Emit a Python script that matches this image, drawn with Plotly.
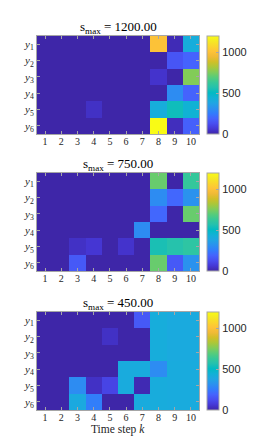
import plotly.graph_objects as go

time_steps = [1, 2, 3, 4, 5, 6, 7, 8, 9, 10]
y_labels = ["<i>y</i><sub>1</sub>", "<i>y</i><sub>2</sub>", "<i>y</i><sub>3</sub>",
            "<i>y</i><sub>4</sub>", "<i>y</i><sub>5</sub>", "<i>y</i><sub>6</sub>"]
titles = ["s<sub>max</sub> = 1200.00", "s<sub>max</sub> = 750.00", "s<sub>max</sub> = 450.00"]

s_1200 = [
    [0, 0, 0, 0, 0, 0, 0, 1000, 20, 420],
    [0, 0, 0, 0, 0, 0, 0, 0, 150, 190],
    [0, 0, 0, 0, 0, 0, 0, 50, 0, 760],
    [0, 0, 0, 0, 0, 0, 0, 0, 300, 190],
    [0, 0, 0, 40, 0, 0, 0, 420, 530, 450],
    [0, 0, 0, 0, 0, 0, 0, 1200, 30, 180],
]
s_750 = [
    [0, 0, 0, 0, 0, 0, 0, 720, 0, 620],
    [0, 0, 0, 0, 0, 0, 0, 300, 200, 320],
    [0, 0, 0, 0, 0, 0, 0, 200, 0, 720],
    [0, 0, 0, 0, 0, 0, 300, 0, 0, 0],
    [0, 0, 40, 60, 0, 50, 0, 550, 575, 600],
    [0, 0, 160, 0, 0, 0, 0, 720, 160, 320],
]
s_450 = [
    [0, 0, 0, 0, 0, 0, 160, 420, 405, 405],
    [0, 0, 0, 0, 40, 0, 0, 420, 405, 405],
    [0, 0, 0, 0, 0, 0, 0, 420, 405, 405],
    [0, 0, 0, 0, 0, 410, 410, 300, 410, 410],
    [0, 0, 300, 40, 100, 410, 15, 415, 410, 410],
    [0, 0, 400, 260, 0, 0, 410, 415, 410, 410],
]
panels = [s_1200, s_750, s_450]

parula_rgb = [
    (0.2422, 0.1504, 0.6603), (0.2706, 0.2147, 0.8364), (0.2813, 0.3006, 0.9414),
    (0.2699, 0.3892, 0.9906), (0.1963, 0.4847, 0.9892), (0.1687, 0.5703, 0.9359),
    (0.1248, 0.6459, 0.8883), (0.0689, 0.6948, 0.8394), (0.0067, 0.7312, 0.7660),
    (0.1408, 0.7584, 0.6842), (0.2161, 0.7843, 0.5923), (0.3406, 0.8008, 0.4789),
    (0.5044, 0.7993, 0.3480), (0.6720, 0.7793, 0.2227), (0.8203, 0.7498, 0.1535),
    (0.9393, 0.7288, 0.2100), (0.9970, 0.7659, 0.2199), (0.9786, 0.8386, 0.1766),
    (0.9597, 0.9135, 0.1423), (0.9769, 0.9839, 0.0805),
]
n = len(parula_rgb)
parula = [[i / (n - 1), "rgb(%d,%d,%d)" % tuple(round(c * 255) for c in rgb)]
          for i, rgb in enumerate(parula_rgb)]

# page body has an 8px margin; work in page pixels and convert
OFF = 8
W, H = 269 - OFF, 438 - OFF
def px_x(x):
    return (x - OFF) / W
def px_y(y):
    return 1 - (y - OFF) / H

x0, x1 = 37, 199
tops = [36, 173, 312]
ph = 98
serif = "Liberation Serif"
axis_col = "#a6a6a6"
txt_col = "#262626"

fig = go.Figure()
layout = dict(
    width=W, height=H, margin=dict(l=0, r=0, t=0, b=0),
    paper_bgcolor="white", plot_bgcolor="white", showlegend=False,
    annotations=[],
)
for i, z in enumerate(panels):
    k = "" if i == 0 else str(i + 1)
    ca = "coloraxis" + k
    fig.add_trace(go.Heatmap(z=z, x=time_steps, y=y_labels, coloraxis=ca,
                             xaxis="x" + k, yaxis="y" + k, hoverinfo="skip"))
    top, bot = tops[i], tops[i] + ph
    ydom = [px_y(bot), px_y(top)]
    layout["xaxis" + k] = dict(
        domain=[px_x(x0), px_x(x1)], anchor="y" + k, range=[0.5, 10.5],
        tickvals=time_steps, ticktext=[str(t) for t in time_steps],
        ticks="inside", ticklen=3, tickcolor=axis_col, showline=True, linecolor=axis_col,
        linewidth=1, mirror="ticks", showgrid=False, zeroline=False,
        tickfont=dict(family=serif, size=10, color=txt_col),
        ticklabelstandoff=-2,
    )
    layout["yaxis" + k] = dict(
        domain=ydom, anchor="x" + k, autorange="reversed", type="category",
        ticks="inside", ticklen=3, tickcolor=axis_col, showline=True, linecolor=axis_col,
        linewidth=1, mirror="ticks", showgrid=False, zeroline=False,
        tickfont=dict(family=serif, size=11, color=txt_col),
    )
    layout[ca] = dict(
        colorscale=parula, cmin=0, cmax=1200,
        colorbar=dict(
            x=px_x(207), xanchor="left", thickness=12, thicknessmode="pixels",
            len=ph, lenmode="pixels", y=(ydom[0] + ydom[1]) / 2, yanchor="middle",
            outlinecolor=axis_col, outlinewidth=1, tickvals=[0, 500, 1000],
            ticks="inside", ticklen=3, tickcolor=axis_col,
            tickfont=dict(family="Liberation Sans", size=11, color=txt_col),
            xpad=0, ypad=0,
        ),
    )
    layout["annotations"].append(dict(
        text=titles[i], x=px_x((x0 + x1) / 2), y=px_y(top - 9), xref="paper", yref="paper",
        xanchor="center", yanchor="middle", showarrow=False,
        font=dict(family=serif, size=13, color="black"),
    ))
layout["annotations"].append(dict(
    text="Time step <i>k</i>", x=px_x((x0 + x1) / 2), y=px_y(438), xref="paper", yref="paper",
    xanchor="center", yanchor="bottom", showarrow=False,
    font=dict(family=serif, size=11.5, color=txt_col),
))
fig.update_layout(**layout)
fig.write_html("out.html")
